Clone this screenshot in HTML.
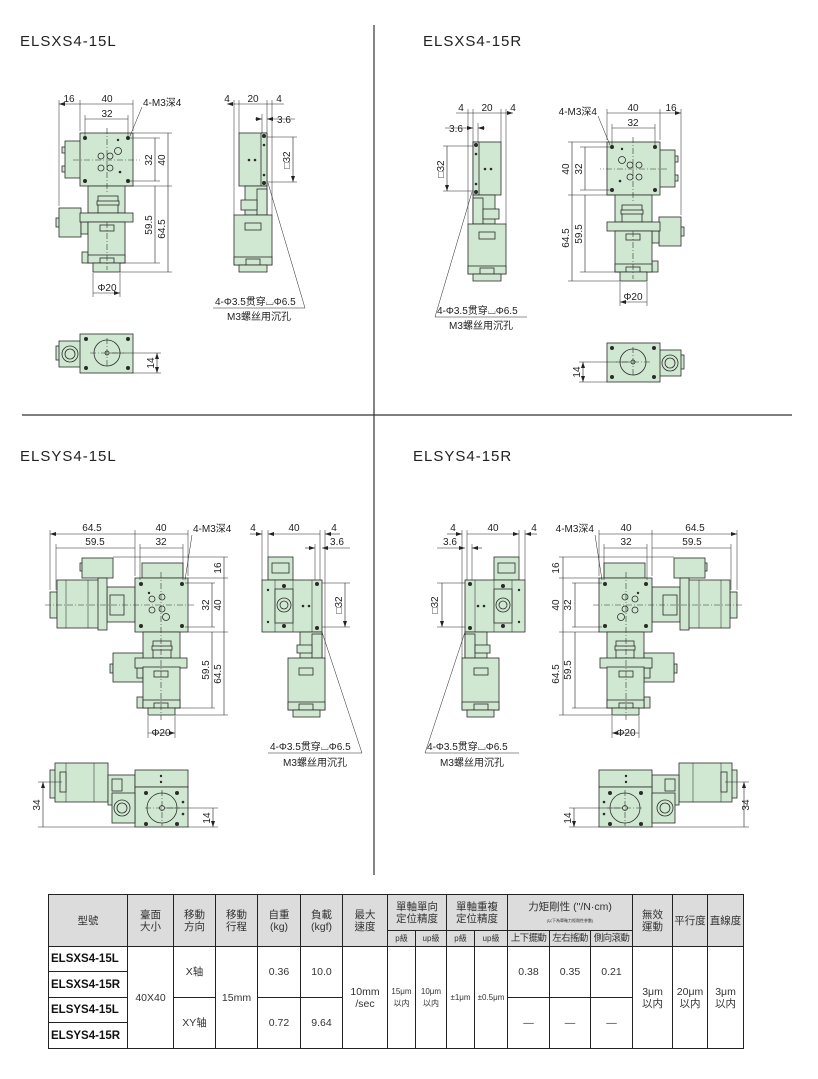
<!DOCTYPE html>
<html><head><meta charset="utf-8">
<style>
html,body{margin:0;padding:0;background:#fff;}
body{width:818px;height:1079px;position:relative;overflow:hidden;font-family:"Liberation Sans","Noto Sans CJK TC",sans-serif;}
svg{position:absolute;left:0;top:0;}
.t{font-family:"Liberation Sans","Noto Sans CJK SC",sans-serif;font-size:10px;fill:#222;}
.ti{font-family:"Liberation Sans",sans-serif;font-size:15px;fill:#222;letter-spacing:1px;}
.b{fill:#d0e8d2;stroke:#2a2a2a;stroke-width:0.8;}
.k{fill:#2a2a2a;}
.d{stroke:#222;stroke-width:0.6;fill:none;}
.e{stroke:#222;stroke-width:0.5;fill:none;}
.c{stroke:#333;stroke-width:0.6;stroke-dasharray:6 2 1 2;fill:none;}
table{position:absolute;left:48px;top:894px;border-collapse:collapse;table-layout:fixed;width:695px;height:154px;border:1.5px solid #222;font-family:"Liberation Sans","Noto Sans CJK TC",sans-serif;}
td{border:1px solid #222;text-align:center;vertical-align:middle;font-size:10.5px;color:#333;padding:0;line-height:12px;white-space:nowrap;overflow:hidden;}
.h{background:#dcdcdc;}
.m{font-weight:bold;font-size:11.5px;color:#111;text-align:left;padding-left:2px;letter-spacing:0;}
.s{font-size:8px;}
.q{font-size:9.5px;letter-spacing:-0.6px;}
</style></head><body>
<svg width="818" height="1079" viewBox="0 0 818 1079">
<defs>
<marker id="a" viewBox="0 0 6 4" refX="6" refY="2" markerWidth="6" markerHeight="4" orient="auto-start-reverse" markerUnits="userSpaceOnUse"><path d="M0,0 L6,2 L0,4z" fill="#222"/></marker>
<g id="X">
 <rect class="b" x="62" y="147" width="4" height="6"/><rect class="b" x="62" y="166" width="4" height="6"/>
 <rect class="b" x="65" y="141" width="16" height="37"/>
 <rect class="b" x="80" y="133" width="53" height="53"/>
 <circle class="k" cx="85" cy="138" r="2"/><circle class="k" cx="128" cy="138" r="2"/><circle class="k" cx="85" cy="181" r="2"/><circle class="k" cx="128" cy="181" r="2"/>
 <circle class="b" cx="101" cy="156" r="3"/><circle class="b" cx="110" cy="156" r="3"/><circle class="b" cx="118" cy="151" r="3.5"/><circle class="b" cx="101" cy="168" r="3"/><circle class="b" cx="110" cy="168" r="3"/><circle class="k" cx="120" cy="172" r="1.3"/><circle class="k" cx="118" cy="140" r="1.2"/>
 <rect class="b" x="88" y="186" width="37" height="27"/><rect class="b" x="98" y="196" width="20" height="17"/><rect class="b" x="97" y="201" width="22" height="4"/>
 <rect class="b" x="56" y="218" width="4" height="9"/>
 <rect class="b" x="59" y="208" width="22" height="29"/><rect class="b" x="81" y="222" width="7" height="12"/>
 <rect class="b" x="80" y="213" width="53" height="9"/>
 <rect class="b" x="82" y="252" width="6" height="11"/>
 <rect class="b" x="88" y="222" width="37" height="41"/><rect class="b" x="100" y="225" width="14" height="6"/><rect class="b" x="88" y="255" width="37" height="8"/><rect class="b" x="100" y="258" width="14" height="5"/>
 <rect class="b" x="93" y="263" width="27" height="9"/>
 <path class="c" d="M73 160H140M107 128V192M107 222V270"/>
 <path class="e" d="M59 100V206M80 100V131M133 100V131M85 115V136M128 115V136M133 133H172M130 138H160M130 181H160M125 186H172M120 263H160M120 272H172M93 273V297M120 273V297"/>
 <path class="d" marker-start="url(#a)" marker-end="url(#a)" d="M59 104H80M80 104H133M85 119H128M155 138V181M168 133V186M155 186V263M168 186V272M93 293H120"/>
 <path class="e" d="M142 107L130 136"/>
 <rect class="b" x="239" y="133" width="28" height="53"/><rect class="b" x="261" y="133" width="6" height="53"/>
 <circle class="k" cx="264" cy="136" r="2"/><circle class="k" cx="264" cy="183" r="2"/><circle class="k" cx="249" cy="160" r="1.3"/><circle class="k" cx="255" cy="160" r="1.3"/><circle class="k" cx="264" cy="145" r="1.3"/><circle class="k" cx="264" cy="175" r="1.3"/>
 <rect class="b" x="245" y="186" width="22" height="29"/><rect class="b" x="257" y="189" width="10" height="26"/><rect class="b" x="241" y="200" width="16" height="10"/>
 <rect class="b" x="234" y="215" width="38" height="50"/><rect class="b" x="245" y="223" width="16" height="7"/><rect class="b" x="234" y="257" width="38" height="8"/><rect class="b" x="246" y="259" width="14" height="6"/>
 <rect class="b" x="239" y="265" width="28" height="7"/>
 <path class="e" d="M234 100V215M239 100V133M267 100V133M272 100V215M262 114V133M267 137H297M267 182H297"/>
 <path class="d" marker-start="url(#a)" marker-end="url(#a)" d="M227 104H234M239 104H267M272 104H279M293 137V182"/>
 <path class="d" d="M234 104H239M267 104H272M279 104H284"/>
 <path class="d" marker-end="url(#a)" d="M295 119H267"/><path class="d" marker-end="url(#a)" d="M255 119H262"/>
 <path class="e" d="M268 183L305 308M213 308H305"/>
 <rect class="b" x="56" y="346" width="4" height="14"/>
 <rect class="b" x="59" y="341" width="23" height="26"/><circle class="b" cx="70" cy="354" r="8"/><circle class="b" cx="70" cy="354" r="5"/>
 <rect class="b" x="80" y="334" width="53" height="39"/>
 <circle class="b" cx="107" cy="353" r="13"/><circle class="b" cx="107" cy="353" r="2"/>
 <circle class="k" cx="86" cy="339" r="2"/><circle class="k" cx="128" cy="339" r="2"/><circle class="k" cx="86" cy="368" r="2"/><circle class="k" cx="128" cy="368" r="2"/>
 <path class="c" d="M90 353H124M107 338V368"/>
 <path class="e" d="M110 353H161M133 373H161"/>
 <path class="d" marker-start="url(#a)" marker-end="url(#a)" d="M157 353V373"/>
</g>
<g id="Y">
 <rect class="b" x="80" y="563" width="3" height="8"/>
 <rect class="b" x="82" y="558" width="31" height="20"/>
 <rect class="b" x="50" y="592" width="7" height="26"/>
 <rect class="b" x="57" y="580" width="43" height="48"/><path class="e" d="M66 580V628M88 580V628"/>
 <rect class="b" x="107" y="587" width="28" height="35"/><rect class="b" x="110" y="595" width="14" height="20"/>
 <rect class="b" x="98" y="578" width="9" height="52"/>
 <rect class="b" x="142" y="563" width="41" height="15"/>
 <rect class="b" x="135" y="578" width="53" height="54"/>
 <circle class="k" cx="141" cy="584" r="2"/><circle class="k" cx="182" cy="584" r="2"/><circle class="k" cx="141" cy="626" r="2"/><circle class="k" cx="182" cy="626" r="2"/>
 <circle class="b" cx="152" cy="599" r="3"/><circle class="b" cx="162" cy="597" r="3"/><circle class="b" cx="152" cy="610" r="3"/><circle class="b" cx="162" cy="609" r="3"/><circle class="b" cx="166" cy="617" r="3.5"/><circle class="k" cx="149" cy="593" r="1.2"/>
 <rect class="b" x="143" y="632" width="37" height="27"/><rect class="b" x="153" y="641" width="18" height="17"/><rect class="b" x="152" y="646" width="20" height="4"/>
 <rect class="b" x="110" y="664" width="3" height="9"/>
 <rect class="b" x="113" y="653" width="30" height="29"/><rect class="b" x="137" y="668" width="6" height="10"/>
 <rect class="b" x="135" y="658" width="52" height="10"/>
 <rect class="b" x="137" y="697" width="6" height="11"/>
 <rect class="b" x="143" y="667" width="37" height="41"/><rect class="b" x="154" y="671" width="14" height="6"/><rect class="b" x="143" y="700" width="37" height="8"/><rect class="b" x="154" y="703" width="14" height="5"/>
 <rect class="b" x="148" y="708" width="27" height="7"/>
 <path class="c" d="M45 605H195M161 572V720"/>
 <path class="e" d="M50 530V590M56 544V590M135 530V576M188 530V576M140 544V580M183 544V580M113 557H228M188 578H228M185 583H215M185 627H215M188 632H228M175 708H215M175 715H228M148 716V738M175 716V738"/>
 <path class="d" marker-start="url(#a)" marker-end="url(#a)" d="M50 534H135M135 534H188M56 548H135M140 548H183M224 557V578M212 583V627M224 578V632M212 632V708M224 632V715M148 733H175"/>
 <path class="e" d="M192 535L185 580"/>
 <rect class="b" x="268" y="557" width="25" height="23"/><rect class="b" x="272" y="563" width="17" height="10"/>
 <rect class="b" x="262" y="580" width="60" height="52"/><path class="e" d="M275 580V632M293 580V632M312 580V632"/>
 <rect class="b" x="275" y="589" width="18" height="34"/><circle class="b" cx="284" cy="605" r="7"/><circle class="b" cx="284" cy="605" r="4"/>
 <circle class="k" cx="284" cy="586" r="2"/><circle class="k" cx="284" cy="626" r="2"/><circle class="k" cx="317" cy="584" r="2"/><circle class="k" cx="317" cy="628" r="2"/><circle class="k" cx="303" cy="606" r="1.3"/><circle class="k" cx="309" cy="606" r="1.3"/><circle class="k" cx="268" cy="590" r="1.2"/><circle class="k" cx="268" cy="622" r="1.2"/>
 <rect class="b" x="300" y="632" width="22" height="26"/><rect class="b" x="312" y="634" width="10" height="24"/><rect class="b" x="297" y="645" width="15" height="8"/>
 <rect class="b" x="288" y="658" width="37" height="52"/><rect class="b" x="299" y="668" width="14" height="7"/><rect class="b" x="288" y="702" width="37" height="8"/><rect class="b" x="299" y="704" width="14" height="6"/>
 <rect class="b" x="293" y="710" width="27" height="7"/>
 <path class="e" d="M262 530V580M268 530V557M320 530V580M325 530V658M315 544V580M322 583H350M322 627H350"/>
 <path class="d" marker-start="url(#a)" marker-end="url(#a)" d="M268 534H320M345 583V627"/>
 <path class="d" marker-end="url(#a)" d="M250 534H262"/><path class="d" marker-end="url(#a)" d="M340 534H325"/>
 <path class="d" marker-end="url(#a)" d="M350 548H322"/><path class="d" marker-end="url(#a)" d="M305 548H315"/>
 <path class="e" d="M322 632L362 753M268 753H362"/>
 <rect class="b" x="50" y="770" width="6" height="28"/>
 <rect class="b" x="55" y="763" width="53" height="39"/><path class="e" d="M66 763V802M94 763V802"/><rect class="b" x="60" y="772" width="6" height="20"/>
 <rect class="b" x="108" y="775" width="27" height="30"/><rect class="b" x="112" y="779" width="10" height="12"/>
 <rect class="b" x="135" y="770" width="53" height="17"/><circle class="k" cx="161" cy="776" r="1.2"/><circle class="k" cx="161" cy="782" r="1.2"/>
 <rect class="b" x="135" y="787" width="53" height="40"/>
 <circle class="b" cx="162" cy="808" r="15"/><circle class="b" cx="162" cy="808" r="2.5"/>
 <circle class="k" cx="146" cy="793" r="2"/><circle class="k" cx="177" cy="793" r="2"/><circle class="k" cx="146" cy="824" r="2"/><circle class="k" cx="177" cy="824" r="2"/><circle class="k" cx="183" cy="802" r="1.3"/><circle class="k" cx="183" cy="814" r="1.3"/>
 <path class="c" d="M145 808H180M162 790V826"/>
 <rect class="b" x="112" y="793" width="23" height="30"/><circle class="b" cx="122" cy="808" r="8"/><circle class="b" cx="122" cy="808" r="5"/>
 <path class="e" d="M38 782H62M38 827H135M165 808H218M188 827H218"/>
 <path class="d" marker-start="url(#a)" marker-end="url(#a)" d="M43 782V827M213 808V827"/>
</g>
</defs>

<path d="M374 25V875" stroke="#333" stroke-width="1.2"/>
<path d="M22 415H792" stroke="#333" stroke-width="1.2"/>

<text class="ti" x="20" y="46">ELSXS4-15L</text>
<text class="ti" x="423" y="46">ELSXS4-15R</text>
<text class="ti" x="20" y="461">ELSYS4-15L</text>
<text class="ti" x="413" y="461">ELSYS4-15R</text>

<use href="#X"/>
<use href="#X" transform="matrix(-1 0 0 1 740 9)"/>
<use href="#Y"/>
<use href="#Y" transform="matrix(-1 0 0 1 787 0)"/>

<g class="t">
<text x="69" y="102" text-anchor="middle">16</text>
<text x="107" y="102" text-anchor="middle">40</text>
<text x="143" y="106">4-M3深4</text>
<text x="107" y="117" text-anchor="middle">32</text>
<text transform="translate(152 160) rotate(-90)" text-anchor="middle">32</text>
<text transform="translate(165 160) rotate(-90)" text-anchor="middle">40</text>
<text transform="translate(152 225) rotate(-90)" text-anchor="middle">59.5</text>
<text transform="translate(165 229) rotate(-90)" text-anchor="middle">64.5</text>
<text x="107" y="291" text-anchor="middle">Φ20</text>
<text x="227" y="102" text-anchor="middle">4</text>
<text x="253" y="102" text-anchor="middle">20</text>
<text x="279" y="102" text-anchor="middle">4</text>
<text x="284" y="123" text-anchor="middle">3.6</text>
<text transform="translate(290 160) rotate(-90)" text-anchor="middle">□32</text>
<text x="215" y="305">4-Φ3.5贯穿⌴Φ6.5</text>
<text x="259" y="320" text-anchor="middle">M3螺丝用沉孔</text>
<text transform="translate(154 363) rotate(-90)" text-anchor="middle">14</text>
</g>
<g class="t">
<text x="671" y="111" text-anchor="middle">16</text>
<text x="633" y="111" text-anchor="middle">40</text>
<text x="597" y="115" text-anchor="end">4-M3深4</text>
<text x="633" y="126" text-anchor="middle">32</text>
<text transform="translate(582 169) rotate(-90)" text-anchor="middle">32</text>
<text transform="translate(569 169) rotate(-90)" text-anchor="middle">40</text>
<text transform="translate(582 234) rotate(-90)" text-anchor="middle">59.5</text>
<text transform="translate(569 238) rotate(-90)" text-anchor="middle">64.5</text>
<text x="633" y="300" text-anchor="middle">Φ20</text>
<text x="513" y="111" text-anchor="middle">4</text>
<text x="487" y="111" text-anchor="middle">20</text>
<text x="461" y="111" text-anchor="middle">4</text>
<text x="456" y="132" text-anchor="middle">3.6</text>
<text transform="translate(444 169) rotate(-90)" text-anchor="middle">□32</text>
<text x="437" y="314">4-Φ3.5贯穿⌴Φ6.5</text>
<text x="481" y="329" text-anchor="middle">M3螺丝用沉孔</text>
<text transform="translate(580 372) rotate(-90)" text-anchor="middle">14</text>
</g>
<g class="t">
<text x="92" y="531" text-anchor="middle">64.5</text>
<text x="161" y="531" text-anchor="middle">40</text>
<text x="193" y="532">4-M3深4</text>
<text x="95" y="545" text-anchor="middle">59.5</text>
<text x="161" y="545" text-anchor="middle">32</text>
<text transform="translate(221 568) rotate(-90)" text-anchor="middle">16</text>
<text transform="translate(209 605) rotate(-90)" text-anchor="middle">32</text>
<text transform="translate(221 605) rotate(-90)" text-anchor="middle">40</text>
<text transform="translate(209 670) rotate(-90)" text-anchor="middle">59.5</text>
<text transform="translate(221 674) rotate(-90)" text-anchor="middle">64.5</text>
<text x="161" y="736" text-anchor="middle">Φ20</text>
<text x="253" y="531" text-anchor="middle">4</text>
<text x="294" y="531" text-anchor="middle">40</text>
<text x="334" y="531" text-anchor="middle">4</text>
<text x="337" y="545" text-anchor="middle">3.6</text>
<text transform="translate(342 605) rotate(-90)" text-anchor="middle">□32</text>
<text x="270" y="750">4-Φ3.5贯穿⌴Φ6.5</text>
<text x="315" y="766" text-anchor="middle">M3螺丝用沉孔</text>
<text transform="translate(40 805) rotate(-90)" text-anchor="middle">34</text>
<text transform="translate(210 818) rotate(-90)" text-anchor="middle">14</text>
</g>
<g class="t">
<text x="695" y="531" text-anchor="middle">64.5</text>
<text x="626" y="531" text-anchor="middle">40</text>
<text x="594" y="532" text-anchor="end">4-M3深4</text>
<text x="692" y="545" text-anchor="middle">59.5</text>
<text x="626" y="545" text-anchor="middle">32</text>
<text transform="translate(559 568) rotate(-90)" text-anchor="middle">16</text>
<text transform="translate(571 605) rotate(-90)" text-anchor="middle">32</text>
<text transform="translate(559 605) rotate(-90)" text-anchor="middle">40</text>
<text transform="translate(571 670) rotate(-90)" text-anchor="middle">59.5</text>
<text transform="translate(559 674) rotate(-90)" text-anchor="middle">64.5</text>
<text x="626" y="736" text-anchor="middle">Φ20</text>
<text x="534" y="531" text-anchor="middle">4</text>
<text x="493" y="531" text-anchor="middle">40</text>
<text x="453" y="531" text-anchor="middle">4</text>
<text x="450" y="545" text-anchor="middle">3.6</text>
<text transform="translate(438 605) rotate(-90)" text-anchor="middle">□32</text>
<text x="427" y="750">4-Φ3.5贯穿⌴Φ6.5</text>
<text x="472" y="766" text-anchor="middle">M3螺丝用沉孔</text>
<text transform="translate(749 805) rotate(-90)" text-anchor="middle">34</text>
<text transform="translate(571 818) rotate(-90)" text-anchor="middle">14</text>
</g>
</svg>

<table>
<colgroup><col style="width:79px"><col style="width:46px"><col style="width:42px"><col style="width:42px"><col style="width:43px"><col style="width:42px"><col style="width:45px"><col style="width:28px"><col style="width:31px"><col style="width:28px"><col style="width:33px"><col style="width:42px"><col style="width:41px"><col style="width:42px"><col style="width:40px"><col style="width:35px"><col style="width:36px"></colgroup>
<tr style="height:36px">
<td class="h" rowspan="2">型號</td><td class="h" rowspan="2">臺面<br>大小</td><td class="h" rowspan="2">移動<br>方向</td><td class="h" rowspan="2">移動<br>行程</td><td class="h" rowspan="2">自重<br>(kg)</td><td class="h" rowspan="2">負載<br>(kgf)</td><td class="h" rowspan="2">最大<br>速度</td>
<td class="h" colspan="2">單軸單向<br>定位精度</td><td class="h" colspan="2">單軸重複<br>定位精度</td><td class="h" colspan="3">力矩剛性 ("/N·cm)<br><span style="font-size:4px;line-height:4px">(以下為單軸力矩剛性參數)</span></td>
<td class="h" rowspan="2">無效<br>運動</td><td class="h" rowspan="2">平行度</td><td class="h" rowspan="2">直線度</td></tr>
<tr style="height:16px"><td class="h s">p級</td><td class="h s">up級</td><td class="h s">p級</td><td class="h s">up級</td><td class="h q">上下擺動</td><td class="h q">左右搖動</td><td class="h q">側向滾動</td></tr>
<tr style="height:25px"><td class="m">ELSXS4-15L</td><td rowspan="4">40X40</td><td rowspan="2">X轴</td><td rowspan="4">15mm</td><td rowspan="2">0.36</td><td rowspan="2">10.0</td><td rowspan="4">10mm<br>/sec</td><td rowspan="4" class="s">15μm<br>以内</td><td rowspan="4" class="s">10μm<br>以内</td><td rowspan="4" class="s">±1μm</td><td rowspan="4" class="s">±0.5μm</td><td rowspan="2">0.38</td><td rowspan="2">0.35</td><td rowspan="2">0.21</td><td rowspan="4">3μm<br>以内</td><td rowspan="4">20μm<br>以内</td><td rowspan="4">3μm<br>以内</td></tr>
<tr style="height:26px"><td class="m">ELSXS4-15R</td></tr>
<tr style="height:25px"><td class="m">ELSYS4-15L</td><td rowspan="2">XY轴</td><td rowspan="2">0.72</td><td rowspan="2">9.64</td><td rowspan="2">—</td><td rowspan="2">—</td><td rowspan="2">—</td></tr>
<tr style="height:26px"><td class="m">ELSYS4-15R</td></tr>
</table>
</body></html>
